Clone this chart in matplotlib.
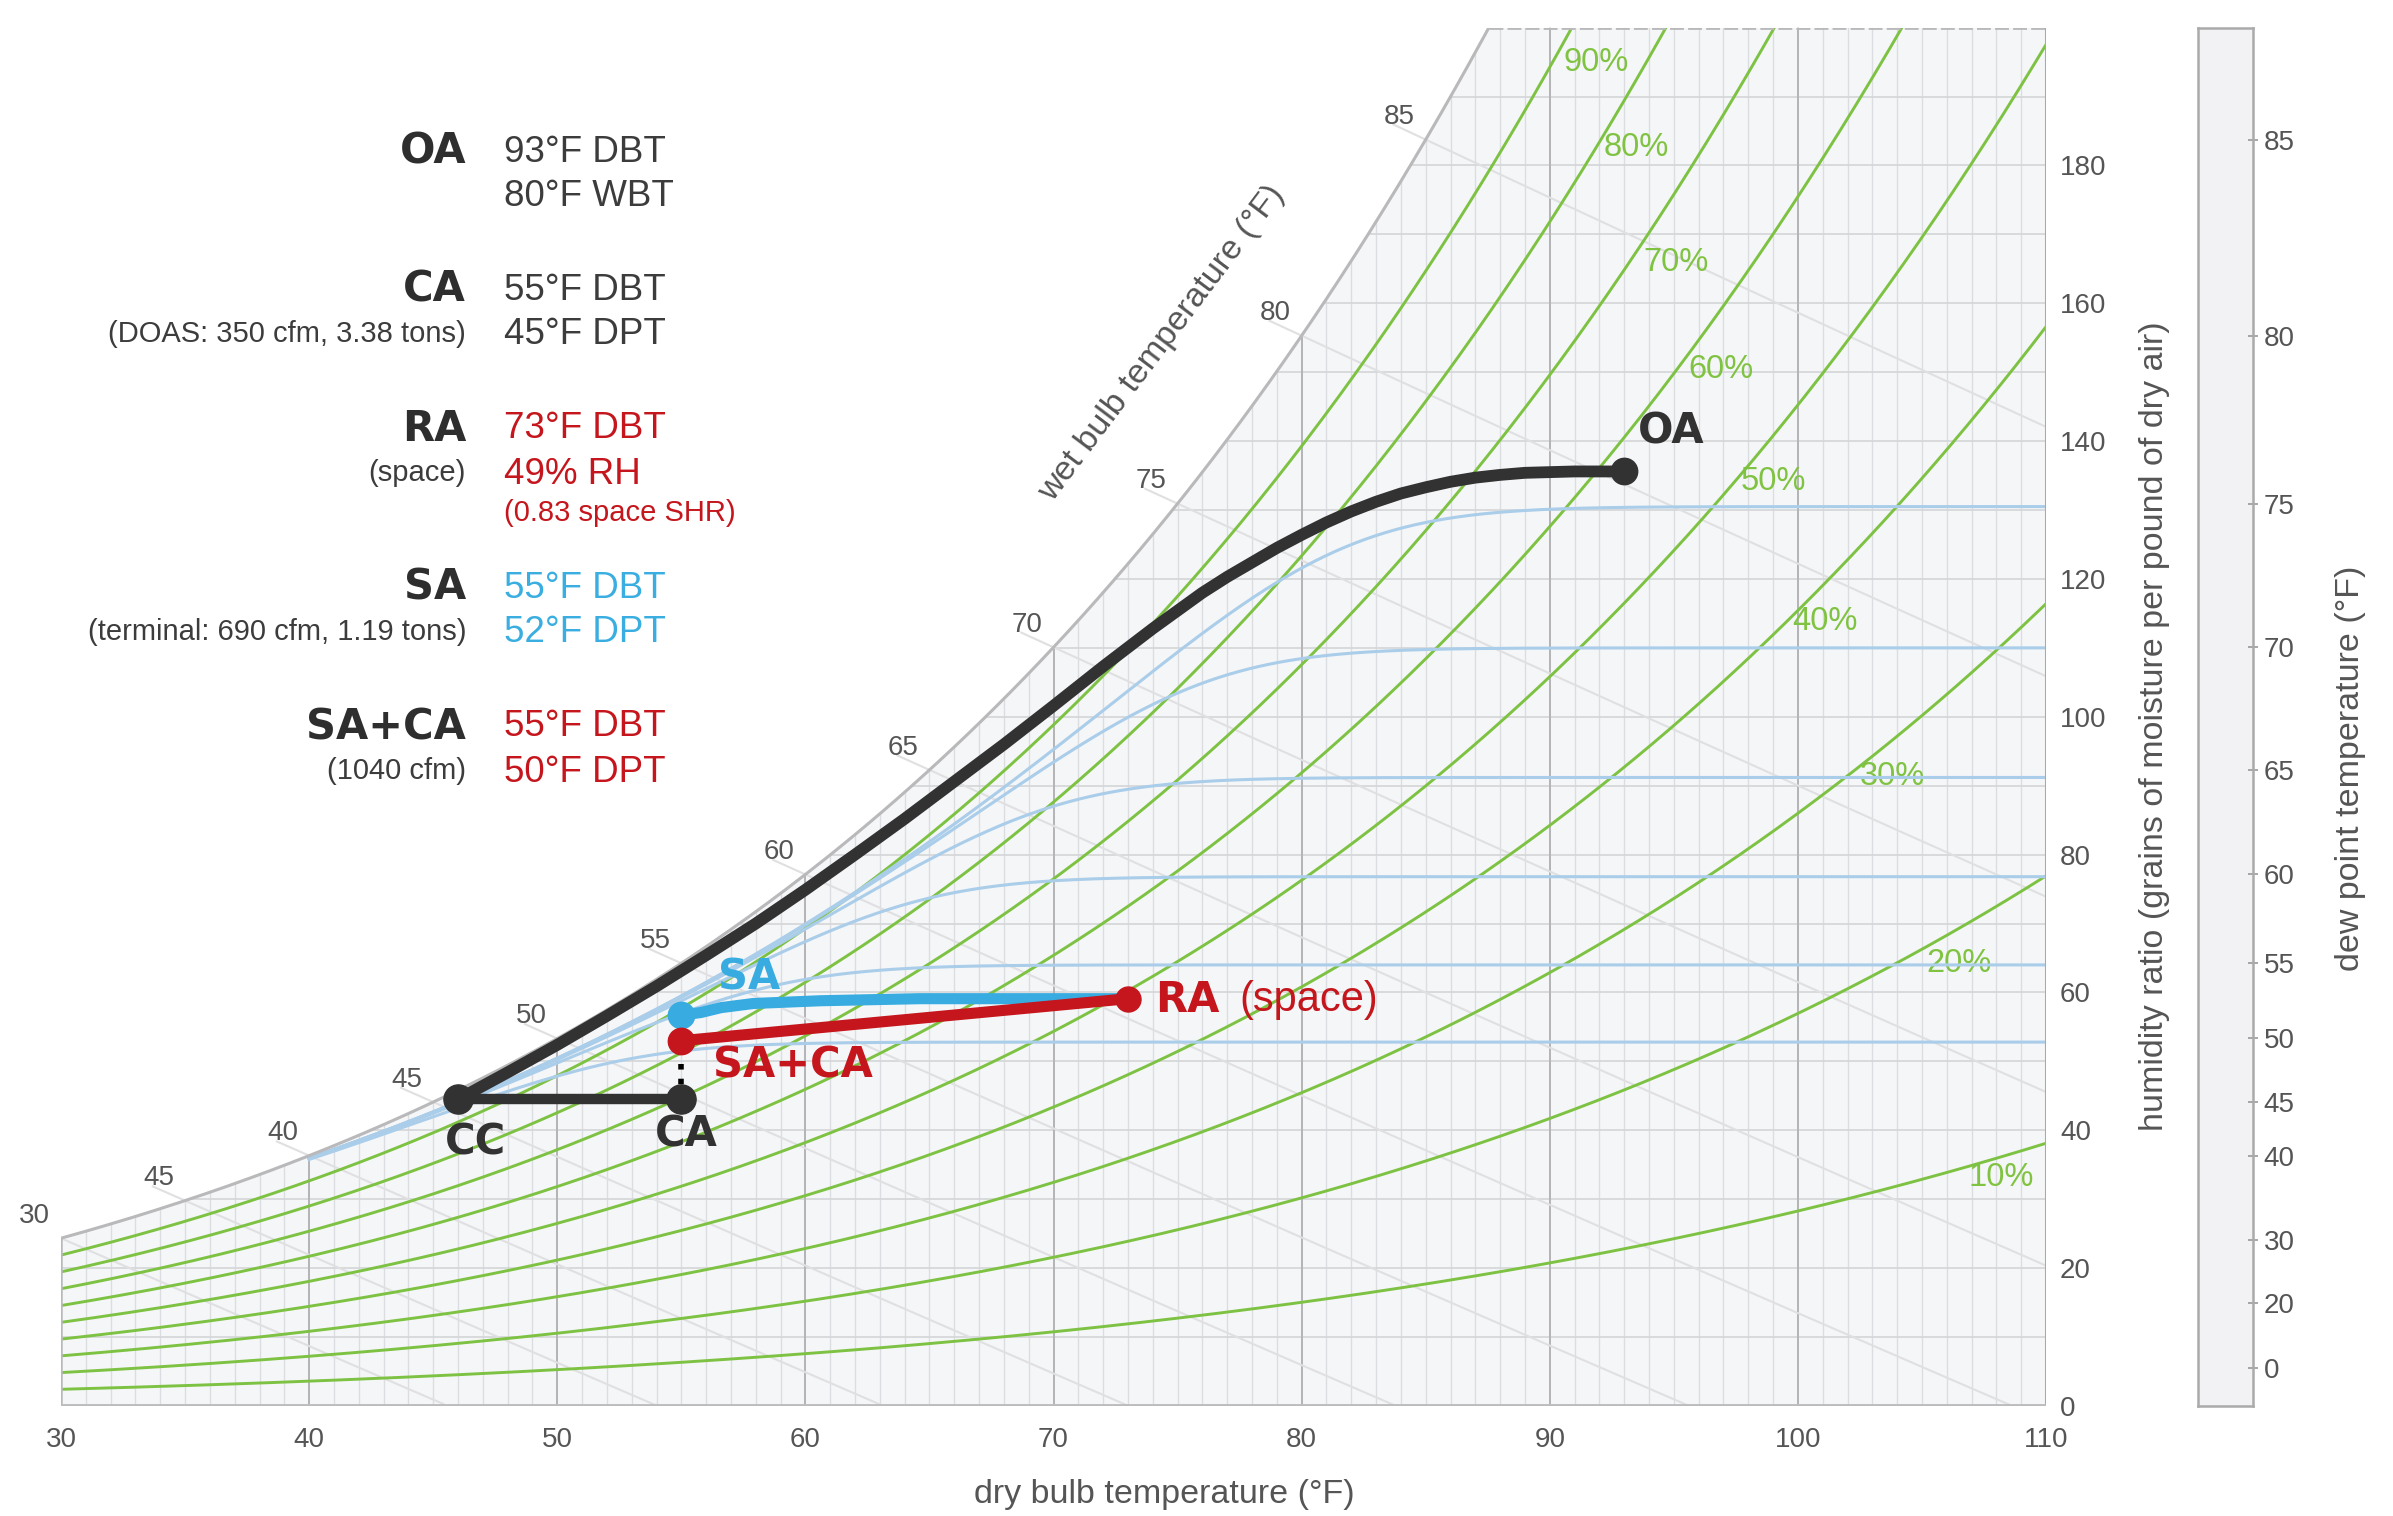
import numpy as np
import matplotlib
matplotlib.use("Agg")
import matplotlib.pyplot as plt
from matplotlib.patches import Polygon

plt.rcParams['font.family'] = ['Liberation Sans', 'DejaVu Sans']

# ---- chart values -------------------------------------------------------
x_ticks = [30, 40, 50, 60, 70, 80, 90, 100, 110]
y_ticks = [0, 20, 40, 60, 80, 100, 120, 140, 160, 180]

rh_levels = [10, 20, 30, 40, 50, 60, 70, 80, 90]
rh_label_T = [108.2, 106.5, 103.8, 101.1, 99.0, 96.9, 95.1, 93.5, 91.85]
rh_label_W = [33.1, 64.2, 91.4, 113.9, 134.1, 150.4, 165.9, 182.6, 194.9]

wb_levels = [30, 35, 40, 45, 50, 55, 60, 65, 70, 75, 80, 85]
wb_labels = ['30', '45', '40', '45', '50', '55', '60', '65', '70', '75', '80', '85']

# flat part of the dew point lines (grains)
dp_line_grains = [52.8, 64.0, 76.8, 91.2, 110.0, 130.5]
dp_scale_ticks = [0, 20, 30, 40, 45, 50, 55, 60, 65, 70, 75, 80, 85]

# process states (dry bulb F, grains/lb)
oa = (93.0, 135.6)
cc = (46.0, 44.5)
ca = (55.0, 44.5)
sa = (55.0, 56.7)
sa_ca = (55.0, 53.0)
ra = (73.0, 59.1)

# cooling coil path OA -> CC
coil_T = [46, 48, 50, 52, 54, 56, 58, 60, 62, 64, 66, 68, 70, 72, 74, 76, 77,
          78, 79, 80, 81, 82, 83, 84, 85, 86, 87, 88, 89, 90, 91, 93]
coil_W = [44.5, 48.4, 52.4, 56.6, 60.9, 65.4, 70.0, 74.9, 80.0, 85.2, 90.6,
          96.0, 101.6, 107.3, 112.8, 118.0, 120.3, 122.4, 124.5, 126.4, 128.2,
          129.8, 131.2, 132.4, 133.3, 134.1, 134.7, 135.1, 135.4, 135.5, 135.6,
          135.6]

# SA -> RA line
sa_path_T = [55.0, 55.8, 56.6, 57.9, 60.6, 64.6, 73.0]
sa_path_W = [56.7, 57.1, 57.8, 58.4, 58.8, 59.1, 59.1]

# text block: (label, note, values, extra line, value colour)
block_rows = [
    ('OA', None, ['93°F DBT', '80°F WBT'], None, '#3c3c3c'),
    ('CA', '(DOAS: 350 cfm, 3.38 tons)', ['55°F DBT', '45°F DPT'], None, '#3c3c3c'),
    ('RA', '(space)', ['73°F DBT', '49% RH'], '(0.83 space SHR)', '#c4161c'),
    ('SA', '(terminal: 690 cfm, 1.19 tons)', ['55°F DBT', '52°F DPT'], None, '#3aaee0'),
    ('SA+CA', '(1040 cfm)', ['55°F DBT', '50°F DPT'], None, '#c4161c'),
]
block_y = [152, 290, 429, 588, 727]   # px from top of the figure

# ---- psychrometric scale ------------------------------------------------
P = 101.325


def p_ws(t_f, ice=False):
    tc = (np.asarray(t_f, float) - 32) / 1.8
    if ice:
        return 0.61115 * np.exp(22.452 * tc / (272.55 + tc))
    return 0.61094 * np.exp(17.625 * tc / (tc + 243.04))


def w_from_pw(pw):
    return 7000 * 0.621945 * pw / (P - pw)


def w_sat(t_f):
    return w_from_pw(p_ws(t_f))


def w_rh(t_f, rh):
    return w_from_pw(rh / 100 * p_ws(t_f))


def w_wb(t_f, twb):
    ws = w_sat(twb) / 7000
    return 7000 * ((1093 - 0.556 * twb) * ws - 0.240 * (t_f - twb)) / (1093 + 0.444 * t_f - twb)


W_TOP = 200
tt = np.linspace(30, 110, 2000)
t_top = np.interp(W_TOP, w_sat(tt), tt)

W_PX, H_PX = 2393, 1516
fig = plt.figure(figsize=(W_PX / 100, H_PX / 100), dpi=100)
ax_l, ax_r, ax_b, ax_t = 61, 2046, 1406, 27.6
ax = fig.add_axes([ax_l / W_PX, 1 - ax_b / H_PX, (ax_r - ax_l) / W_PX, (ax_b - ax_t) / H_PX])
ax.set_xlim(30, 110)
ax.set_ylim(0, W_TOP)
ax.set_facecolor('white')
for s in ax.spines.values():
    s.set_visible(False)

# chart region below saturation
ts = np.linspace(30, t_top, 300)
region = np.vstack([np.column_stack([ts, w_sat(ts)]),
                    [[110, W_TOP], [110, 0], [30, 0]]])
bg = Polygon(region, closed=True, facecolor='#f5f6f8', edgecolor='none', zorder=0)
ax.add_patch(bg)

# grid
for t in range(31, 110):
    if t % 10:
        ax.axvline(t, color='#dcdde0', lw=1.0, zorder=1, clip_path=bg)
for t in x_ticks[1:-1]:
    ax.axvline(t, color='#b4b4b6', lw=1.4, zorder=1.2, clip_path=bg)
for w in range(10, W_TOP, 10):
    ax.axhline(w, color='#d6d7da', lw=1.3, zorder=1, clip_path=bg)

# wet bulb lines
for twb, lab in zip(wb_levels, wb_labels):
    t = np.linspace(twb - 1.3, 110, 400)
    w = w_wb(t, twb)
    keep = (w >= 0) & (w <= W_TOP)
    ax.plot(t[keep], w[keep], color='#e0e0e2', lw=1.5, zorder=1.5)
    ax.annotate(lab, (twb, w_sat(twb)), xytext=(-19, 16), textcoords='offset points',
                ha='center', va='center', fontsize=20, color='#555555',
                annotation_clip=False)

# RH labels (under the blue lines)
for rh, lt, lw_ in zip(rh_levels, rh_label_T, rh_label_W):
    ax.text(lt, lw_, f'{rh}%', ha='center', va='center', fontsize=23.5,
            color='#80c342', zorder=1.8)

# RH curves
for rh in rh_levels:
    t = np.linspace(30, 110, 600)
    ln, = ax.plot(t, w_rh(t, rh), color='#7dc242', lw=2.1, zorder=2)
    ln.set_clip_path(bg)

# dew point curves
for wf in dp_line_grains:
    t = np.linspace(40, 110, 700)
    base = w_sat(t - 0.12 * np.clip(t - 38, 0, None))
    k = 0.1 * wf
    w = -k * np.logaddexp(-base / k, -wf / k)
    ln, = ax.plot(t, w, color='#aacdea', lw=2.2, zorder=2.5)
    ln.set_clip_path(bg)

# borders
ax.plot(ts, w_sat(ts), color='#b9b9bb', lw=2.2, zorder=3)
ax.plot([t_top, 110], [W_TOP, W_TOP], color='#b9b9bb', lw=2.0, ls=(0, (5, 1.5)), zorder=3)
ax.plot([110, 110], [0, W_TOP], color='#a9a9ab', lw=2.2, zorder=3)
ax.plot([30, 30], [0, w_sat(30)], color='#b9b9bb', lw=1.8, zorder=3)
ax.plot([30, 110], [0, 0], color='#bcbcbe', lw=3.5, zorder=3, solid_capstyle='butt')

# process lines
dark, red, blue = '#323232', '#c4161c', '#38ace0'
ax.plot(coil_T, coil_W, color=dark, lw=8.5, zorder=5, solid_capstyle='round',
        solid_joinstyle='round')
ax.plot([cc[0], ca[0]], [cc[1], ca[1]], color=dark, lw=7.5, zorder=5)
ax.plot([ca[0], sa_ca[0]], [ca[1], sa_ca[1]], color='black', lw=4, ls=':', zorder=4.5)
ax.plot(sa_path_T, sa_path_W, color=blue, lw=8, zorder=5, solid_joinstyle='round')
ax.plot([sa_ca[0], ra[0]], [sa_ca[1], ra[1]], color=red, lw=8, zorder=5.2)

ax.plot(*oa, 'o', color=dark, ms=19, zorder=6)
ax.plot(*cc, 'o', color=dark, ms=21, zorder=6)
ax.plot(*ca, 'o', color=dark, ms=21, zorder=6)
ax.plot(*sa, 'o', color=blue, ms=19, zorder=6)
ax.plot(*sa_ca, 'o', color=red, ms=19, zorder=6)
ax.plot(*ra, 'o', color=red, ms=18, zorder=6)

bold = dict(fontsize=30, fontweight='bold', va='center', zorder=7,
            family=['DejaVu Sans'])
ax.text(94.9, 141.4, 'OA', color=dark, ha='center', **bold)
ax.text(46.7, 38.3, 'CC', color=dark, ha='center', **bold)
ax.text(55.2, 39.4, 'CA', color=dark, ha='center', **bold)
ax.text(57.75, 62.2, 'SA', color=blue, ha='center', **bold)
ax.text(59.5, 49.4, 'SA+CA', color=red, ha='center', **bold)
ax.text(74.1, 58.9, 'RA', color=red, ha='left', **bold)
ax.text(77.5, 58.9, '(space)', color=red, ha='left', va='center', fontsize=30, zorder=7)

# axes ticks
ax.set_xticks(x_ticks)
ax.set_xticklabels([str(v) for v in x_ticks])
ax.set_yticks(y_ticks)
ax.yaxis.tick_right()
ax.tick_params(axis='x', length=0, pad=15, labelsize=20, labelcolor='#555555')
ax.tick_params(axis='y', length=0, pad=10, labelsize=20, labelcolor='#555555')

fig.text(1164 / W_PX, 1 - 1494 / H_PX, 'dry bulb temperature (°F)', ha='center',
         va='center', fontsize=24.5, color='#555555')
fig.text(2155 / W_PX, 1 - 726 / H_PX,
         'humidity ratio (grains of moisture per pound of dry air)',
         ha='center', va='center', rotation=90, fontsize=24.5, color='#555555')
fig.text(1162 / W_PX, 1 - 343 / H_PX, 'wet bulb temperature (°F)', ha='center',
         va='center', rotation=53, fontsize=24.5, color='#555555')

# dew point scale
ax2 = fig.add_axes([2198 / W_PX, 1 - ax_b / H_PX, 55 / W_PX, (ax_b - ax_t) / H_PX])
ax2.set_facecolor('#f2f2f4')
ax2.set_ylim(0, W_TOP)
ax2.set_xticks([])
for s in ax2.spines.values():
    s.set_color('#aaaaaa')
    s.set_linewidth(1.8)
dp_pos = [w_from_pw(p_ws(d, ice=d < 32)) for d in dp_scale_ticks]
ax2.set_yticks(dp_pos)
ax2.set_yticklabels([str(d) for d in dp_scale_ticks])
ax2.yaxis.tick_right()
ax2.tick_params(axis='y', direction='inout', length=7, width=1.2, color='#999999',
                pad=4, labelsize=20, labelcolor='#555555')
fig.text(2350 / W_PX, 1 - 768 / H_PX, 'dew point temperature (°F)', ha='center',
         va='center', rotation=90, fontsize=24.5, color='#555555')

# text block on the left
x_lab, x_val = 466 / W_PX, 504 / W_PX
for (lab, note, vals, extra, col), yp in zip(block_rows, block_y):
    fig.text(x_lab, 1 - yp / H_PX, lab, ha='right', va='center', fontsize=30,
             fontweight='bold', color='#2e2e2e', family=['DejaVu Sans'])
    if note:
        fig.text(x_lab, 1 - (yp + 44) / H_PX, note, ha='right', va='center',
                 fontsize=21, color='#3c3c3c')
    for i, v in enumerate(vals):
        fig.text(x_val, 1 - (yp + 45 * i) / H_PX, v, ha='left', va='center',
                 fontsize=26.5, color=col)
    if extra:
        fig.text(x_val, 1 - (yp + 84) / H_PX, extra, ha='left', va='center',
                 fontsize=21, color=col)

fig.savefig('out.png', dpi=100, facecolor='white')
